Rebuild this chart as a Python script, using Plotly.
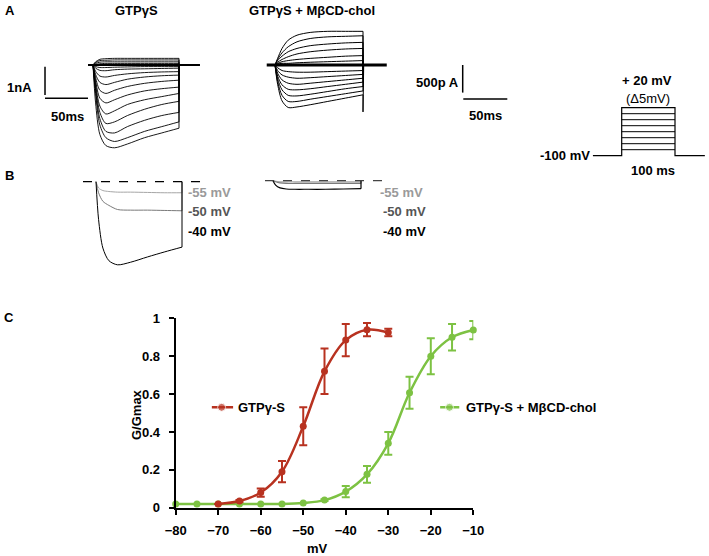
import plotly.graph_objects as go

W, H = 709, 556
FONT = "Liberation Sans, Arial, sans-serif"

# ---------------- Panel A: current families (time in ms, current in nA) ----------------
trace_times = [0, 3, 8, 15, 25, 40, 60, 80, 100]

gtp_traces = [
    [0, -1.2, -2.2, -2.55, -2.62, -2.5, -2.3, -2.15, -2.0],
    [0, -0.9, -1.9, -2.3, -2.42, -2.3, -2.1, -1.95, -1.8],
    [0, -0.8, -1.7, -2.1, -2.15, -1.95, -1.75, -1.6, -1.5],
    [0, -0.7, -1.5, -1.85, -1.8, -1.6, -1.4, -1.25, -1.15],
    [0, -0.6, -1.3, -1.55, -1.45, -1.25, -1.1, -1.0, -0.9],
    [0, -0.5, -1.05, -1.2, -1.1, -0.95, -0.82, -0.75, -0.7],
    [0, -0.4, -0.8, -0.9, -0.8, -0.68, -0.58, -0.52, -0.48],
    [0, -0.3, -0.55, -0.62, -0.55, -0.45, -0.38, -0.34, -0.32],
    [0, -0.2, -0.35, -0.38, -0.33, -0.28, -0.24, -0.22, -0.21],
    [0, -0.1, -0.17, -0.18, -0.15, -0.13, -0.12, -0.11, -0.1],
    [0, -0.05, -0.08, -0.08, -0.07, -0.06, -0.05, -0.05, -0.05],
    [0, 0.1, 0.18, 0.2, 0.21, 0.21, 0.21, 0.21, 0.21],
    [0, 0.08, 0.14, 0.15, 0.16, 0.16, 0.16, 0.16, 0.16],
    [0, 0.05, 0.09, 0.1, 0.1, 0.1, 0.1, 0.1, 0.1],
    [0, 0.02, 0.04, 0.05, 0.05, 0.05, 0.05, 0.05, 0.05],
]

chol_traces = [
    [0, -0.35, -0.65, -0.77, -0.76, -0.72, -0.66, -0.6, -0.54],
    [0, -0.3, -0.55, -0.66, -0.66, -0.62, -0.57, -0.52, -0.47],
    [0, -0.25, -0.45, -0.55, -0.56, -0.53, -0.48, -0.43, -0.39],
    [0, -0.2, -0.36, -0.44, -0.45, -0.43, -0.39, -0.35, -0.31],
    [0, -0.15, -0.27, -0.33, -0.35, -0.33, -0.3, -0.27, -0.24],
    [0, -0.1, -0.18, -0.22, -0.24, -0.23, -0.21, -0.19, -0.17],
    [0, -0.05, -0.1, -0.12, -0.13, -0.13, -0.12, -0.11, -0.1],
    [0, 0.02, 0.03, 0.03, 0.04, 0.05, 0.06, 0.07, 0.08],
    [0, 0.03, 0.06, 0.08, 0.1, 0.12, 0.14, 0.16, 0.17],
    [0, 0.05, 0.1, 0.15, 0.2, 0.24, 0.27, 0.29, 0.3],
    [0, 0.08, 0.16, 0.24, 0.3, 0.35, 0.38, 0.4, 0.41],
    [0, 0.1, 0.22, 0.33, 0.42, 0.48, 0.51, 0.52, 0.53],
    [0, 0.12, 0.3, 0.45, 0.54, 0.59, 0.61, 0.61, 0.61],
]
chol_tail_spike = -0.85

# ---------------- Panel B: selected steps ----------------
stepB_labels = ["-55 mV", "-50 mV", "-40 mV"]
stepB_colors = ["#a6a6a6", "#7a7a7a", "#000000"]
stepB_label_colors = ["#9a9a9a", "#555555", "#000000"]
gtpB = [
    [0, -0.2, -0.28, -0.31, -0.33, -0.33, -0.34, -0.35, -0.35],
    [0, -0.35, -0.62, -0.75, -0.88, -0.9, -0.9, -0.91, -0.92],
    [0, -1.2, -2.1, -2.5, -2.63, -2.55, -2.38, -2.22, -2.07],
]
cholB = [
    [0, -0.01, -0.02, -0.02, -0.02, -0.02, -0.02, -0.02, -0.02],
    [0, -0.02, -0.04, -0.05, -0.05, -0.05, -0.05, -0.05, -0.05],
    [0, -0.08, -0.13, -0.15, -0.155, -0.155, -0.155, -0.15, -0.145],
]

# ---------------- Voltage protocol ----------------
protocol_levels = [-85, -70, -55, -40, -25, -10, 5, 20]
holding_mv = -100
step_ms = 100

# ---------------- Panel C: G/Gmax vs V ----------------
volt_gtp = [-70, -65, -60, -55, -50, -45, -40, -35, -30]
g_gtp = [0.02, 0.035, 0.08, 0.19, 0.43, 0.72, 0.885, 0.94, 0.925]
err_gtp = [0, 0.005, 0.022, 0.056, 0.1, 0.12, 0.085, 0.035, 0.02]

volt_chol = [-80, -75, -70, -65, -60, -55, -50, -45, -40, -35, -30, -25, -20, -15, -10]
g_chol = [0.02, 0.02, 0.02, 0.02, 0.02, 0.02, 0.025, 0.04, 0.085, 0.176, 0.34, 0.607, 0.80, 0.90, 0.938]
err_chol = [0, 0, 0, 0, 0, 0, 0, 0.005, 0.03, 0.044, 0.06, 0.085, 0.095, 0.07, 0.048]

xticks_c = [-80, -70, -60, -50, -40, -30, -20, -10]
yticks_c = [0, 0.2, 0.4, 0.6, 0.8, 1]
ytick_text = ["0", "0.2", "0.4", "0.6", "0.8", "1"]

RED = "#b83220"
GREEN = "#7dc243"

fig = go.Figure()
layout = dict(
    width=W, height=H, margin=dict(l=0, r=0, t=0, b=0, autoexpand=False),
    paper_bgcolor="white", plot_bgcolor="rgba(0,0,0,0)",
    showlegend=False, font=dict(family=FONT, size=13, color="black"),
)


def add_axes(idx, px_x, px_y, x0, sx, y0, sy):
    """Invisible axes whose data units land at given pixel positions."""
    xr = [(px_x[0] - x0) / sx, (px_x[1] - x0) / sx]
    yr = [(y0 - px_y[1]) / sy, (y0 - px_y[0]) / sy]
    layout[f"xaxis{idx}"] = dict(domain=[px_x[0] / W, px_x[1] / W], range=xr, visible=False,
                                 anchor=f"y{idx}", fixedrange=True)
    layout[f"yaxis{idx}"] = dict(domain=[1 - px_y[1] / H, 1 - px_y[0] / H], range=yr, visible=False,
                                 anchor=f"x{idx}", fixedrange=True)


# Panel A left (GTPgS): 0.86 px/ms, 31.6 px/nA
add_axes(2, (0, 215), (20, 165), 93, 0.86, 65, 31.6)
# Panel A right (chol): 0.88 px/ms, 55.2 px/nA
add_axes(3, (255, 520), (20, 135), 275, 0.88, 65, 55.2)
# Panel B left
add_axes(4, (70, 240), (170, 280), 96, 0.86, 181.7, 31.6)
# Panel B right
add_axes(5, (255, 440), (170, 205), 273, 0.88, 180.7, 55.2)
# Protocol: 0.533 px/ms, 0.4 px/mV
add_axes(6, (585, 709), (95, 165), 621.7, 0.533, 155.7 - 0.4 * 100, 0.4)

shapes = []


def line_trace(x, y, ax, color="black", width=1.0, dash=None, shape="linear"):
    fig.add_trace(go.Scatter(x=x, y=y, mode="lines", xaxis=f"x{ax}", yaxis=f"y{ax}",
                             line=dict(color=color, width=width, dash=dash, shape=shape,
                                       smoothing=0.8),
                             hoverinfo="skip"))


def shape_line(ax, x0, y0, x1, y1, color="black", width=1.5, dash=None):
    shapes.append(dict(type="line", xref=f"x{ax}", yref=f"y{ax}", x0=x0, y0=y0, x1=x1, y1=y1,
                       line=dict(color=color, width=width, dash=dash)))


def current_trace(ax, vals, color="black", width=1.0, extra=None):
    """Smooth current during the step, then a vertical return to baseline at step end."""
    line_trace(trace_times, vals, ax, color=color, width=width, shape="spline")
    rx, ry = [step_ms, step_ms], [vals[-1], 0]
    if extra is not None:
        rx, ry = [step_ms, step_ms, step_ms + 0.8], [vals[-1], extra, 0]
    line_trace(rx, ry, ax, color=color, width=width)


# ---- Panel A left traces
pre_l, post_l = -5.8, 124.4
shape_line(2, pre_l, 0, post_l, 0, width=2)
for tr in gtp_traces:
    current_trace(2, tr, width=0.9)
# scale bars 1 nA / 50 ms
shape_line(2, -55.8, -0.054, -55.8, -0.95, width=1.5)
shape_line(2, -55.8, -1.054, -55.8 + 50, -1.054, width=1.5)

# ---- Panel A right traces
pre_r, post_r = -9.4, 127
for i, tr in enumerate(chol_traces):
    current_trace(3, tr, width=1.0, extra=chol_tail_spike if i == 0 else None)
shape_line(3, pre_r, 0, post_r, 0, width=3)
# scale bars 500 pA / 50 ms
shape_line(3, (462.7 - 275) / 0.88, 0.0, (462.7 - 275) / 0.88, -0.5, width=1.5)
shape_line(3, (463.3 - 275) / 0.88, -0.616, (463.3 - 275) / 0.88 + 50, -0.616, width=1.5)

# ---- Panel B left
shape_line(4, -15.1, 0, 121, 0, width=1.3, dash="dash")
for tr, c in zip(gtpB, stepB_colors):
    current_trace(4, tr, color=c, width=1.0)

# ---- Panel B right
shape_line(5, -9.1, 0, 125, 0, color="#444", width=1.3, dash="dash")
for tr, c in zip(cholB, stepB_colors):
    current_trace(5, tr, color=c, width=1.2)

# ---- Voltage protocol
line_trace([-54, 0, 0, step_ms, step_ms, 156], [holding_mv, holding_mv, protocol_levels[-1],
           protocol_levels[-1], holding_mv, holding_mv], 6, width=1.2)
for lv in protocol_levels[:-1]:
    shape_line(6, 0, lv, step_ms, lv, width=1.0)

# ---- Panel C
fig.add_trace(go.Scatter(
    x=volt_chol, y=g_chol, mode="lines+markers", line=dict(color=GREEN, width=2.5, shape="spline"),
    marker=dict(color=GREEN, size=7), cliponaxis=False,
    error_y=dict(type="data", array=err_chol, color=GREEN, thickness=2, width=4),
    xaxis="x", yaxis="y"))
fig.add_trace(go.Scatter(
    x=volt_gtp, y=g_gtp, mode="lines+markers", line=dict(color=RED, width=2.5, shape="spline"),
    marker=dict(color=RED, size=7), cliponaxis=False,
    error_y=dict(type="data", array=err_gtp, color=RED, thickness=2, width=4),
    xaxis="x", yaxis="y"))
# in-plot legend samples
for xs, col in (([-71.5, -69.2, -66.5], RED), ([-17.8, -15.6, -13.3], GREEN)):
    fig.add_trace(go.Scatter(x=xs, y=[0.53] * 3, mode="lines+markers", cliponaxis=False,
                             line=dict(color=col, width=2.5),
                             marker=dict(color=col, size=[0, 8, 0]), xaxis="x", yaxis="y"))

layout["xaxis"] = dict(domain=[175.7 / W, 473.3 / W], range=[-80, -10], tickvals=xticks_c,
                       ticks="outside", ticklen=5, tickwidth=2, tickcolor="black",
                       showline=True, linewidth=2, linecolor="black", showgrid=False, zeroline=False,
                       tickfont=dict(family=FONT, size=13, weight="bold"), ticklabelstandoff=5,
                       anchor="y", fixedrange=True)
layout["yaxis"] = dict(domain=[1 - 507.7 / H, 1 - 318.3 / H], range=[0, 1], tickvals=yticks_c,
                       ticktext=ytick_text, ticks="outside", ticklen=5, tickwidth=2, tickcolor="black",
                       showline=True, linewidth=2, linecolor="black", showgrid=False, zeroline=False,
                       tickfont=dict(family=FONT, size=13, weight="bold"), ticklabelstandoff=6,
                       anchor="x", fixedrange=True)

anns = []


def ann(text, x, y, xanchor="center", size=13, color="black", angle=0):
    anns.append(dict(text=text, x=x / W, y=1 - y / H, xref="paper", yref="paper",
                     xanchor=xanchor, yanchor="middle", showarrow=False, textangle=angle,
                     font=dict(family=FONT, size=size, color=color)))


ann("<b>A</b>", 3, 10, "left")
ann("<b>B</b>", 3, 175, "left")
ann("<b>C</b>", 2, 317, "left")
ann("<b>GTPγS</b>", 136, 10)
ann("<b>GTPγS + MβCD-chol</b>", 312, 10)
ann("<b>1nA</b>", 34, 87, "right")
ann("<b>50ms</b>", 67, 116)
ann("<b>500p A</b>", 461, 83, "right")
ann("<b>50ms</b>", 485, 115)
ann("<b>+ 20 mV</b>", 647, 80)
ann("(Δ5mV)", 648, 98)
ann("<b>-100 mV</b>", 592, 155, "right")
ann("<b>100 ms</b>", 653, 170)
for lbl, col, yy in zip(stepB_labels, stepB_label_colors, [192, 211, 231.5]):
    ann(f"<b>{lbl}</b>", 186, yy, "left", color=col)
for lbl, col, yy, xx in zip(stepB_labels, stepB_label_colors, [192, 211.5, 231], [378, 381, 381]):
    ann(f"<b>{lbl}</b>", xx, yy, "left", color=col)
ann("<b>G/Gmax</b>", 136, 415, angle=-90)
ann("<b>mV</b>", 317, 548)
ann("<b>GTPγ-S</b>", 236, 407.3, "left")
ann("<b>GTPγ-S + MβCD-chol</b>", 464, 407.3, "left")

layout["shapes"] = shapes
layout["annotations"] = anns
fig.update_layout(**layout)
fig.write_html("out.html", config={"displayModeBar": False, "staticPlot": True},
               post_script="document.body.style.margin='0';document.body.style.overflow='hidden';")
